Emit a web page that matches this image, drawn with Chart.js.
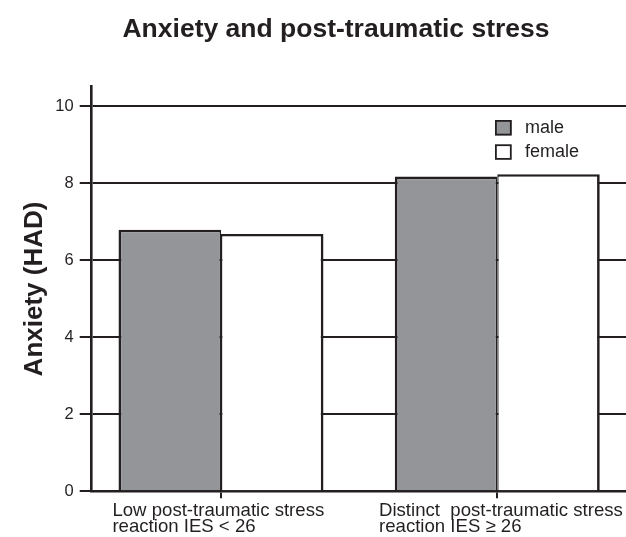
<!DOCTYPE html>
<html>
<head>
<meta charset="utf-8">
<script src="https://cdn.jsdelivr.net/npm/chart.js@4.4.1/dist/chart.umd.min.js"></script>
<style>
html, body { margin: 0; padding: 0; background: #ffffff; }
#wrap { width: 626px; height: 537px; position: relative; }
</style>
</head>
<body>
<div id="wrap"><canvas id="c"></canvas></div>
<script>
// ---- data ----
const categories = [
  ['Low post-traumatic stress', 'reaction IES < 26'],
  ['Distinct  post-traumatic stress', 'reaction IES \u2265 26']
];
const seriesNames = ['male', 'female'];
const maleValues = [6.79, 8.17];
const femaleValues = [6.68, 8.23];
const yTickValues = [0, 2, 4, 6, 8, 10];
const titleText = 'Anxiety and post-traumatic stress';
const yAxisTitle = 'Anxiety (HAD)';

// ---- styles ----
const INK = '#231f20';
const GRAY = '#939598';
const FONT = "'Liberation Sans', Arial, Helvetica, sans-serif";
Chart.defaults.font.family = FONT;
Chart.defaults.color = INK;

const X_MIN = -0.468, X_MAX = 1.466;
// left edge of each (left-aligned) category label block, in x-axis units
const labelBlockStarts = [-0.393, 0.572];

const insideLegend = {
  id: 'insideLegend',
  afterDraw(chart) {
    const ctx = chart.ctx;
    const x = 495, y0 = 120, gap = 24.3, bw = 16.7, bh = 15.5;
    ctx.save();
    chart.data.datasets.forEach((ds, i) => {
      const y = y0 + i * gap;
      ctx.fillStyle = ds.backgroundColor;
      ctx.fillRect(x, y, bw, bh);
      ctx.lineWidth = 1.8;
      ctx.strokeStyle = INK;
      ctx.strokeRect(x + 0.9, y + 0.9, bw - 1.8, bh - 1.8);
      ctx.fillStyle = INK;
      ctx.font = '18px ' + FONT;
      ctx.textAlign = 'left';
      ctx.textBaseline = 'middle';
      ctx.fillText(ds.label, 525, y + bh / 2);
    });
    ctx.restore();
  }
};

new Chart(document.getElementById('c'), {
  type: 'bar',
  data: {
    datasets: [
      {
        label: seriesNames[0],
        data: maleValues.map((v, i) => ({ x: i, y: v })),
        backgroundColor: GRAY,
        borderColor: INK,
        borderWidth: { top: 2.7, left: 2.7, right: 1.4, bottom: 0 },
        borderSkipped: false,
        xAxisID: 'x', yAxisID: 'y',
        categoryPercentage: 0.742,
        barPercentage: 1
      },
      {
        label: seriesNames[1],
        data: femaleValues.map((v, i) => ({ x: i, y: v })),
        backgroundColor: '#ffffff',
        borderColor: INK,
        borderWidth: { top: 2.7, left: 1.4, right: 2.7, bottom: 0 },
        borderSkipped: false,
        xAxisID: 'x', yAxisID: 'y',
        categoryPercentage: 0.742,
        barPercentage: 1
      }
    ]
  },
  options: {
    responsive: true,
    maintainAspectRatio: false,
    animation: false,
    events: [],
    layout: { padding: { left: 46, top: 0, right: 0, bottom: 0 } },
    plugins: {
      legend: { display: false },
      tooltip: { enabled: false },
      title: {
        display: true,
        text: titleText,
        color: INK,
        align: 'center',
        font: { family: FONT, size: 26.5, weight: 'bold', lineHeight: 1.2 },
        padding: { top: 13.7, bottom: 41.2 }
      }
    },
    scales: {
      x: {
        type: 'linear',
        position: 'bottom',
        weight: 0,
        min: X_MIN, max: X_MAX,
        offset: false,
        afterBuildTicks: s => { s.ticks = categories.map((c, i) => ({ value: i })); },
        ticks: { display: false },
        grid: { display: true, drawOnChartArea: false, drawTicks: true, tickLength: 7, lineWidth: 2, color: INK, offset: false },
        border: { display: true, color: INK, width: 2.5 },
        afterFit: s => { s.height = 7; }
      },
      xl: {
        type: 'linear',
        position: 'bottom',
        weight: 1,
        min: X_MIN, max: X_MAX,
        offset: false,
        afterBuildTicks: s => { s.ticks = labelBlockStarts.map(v => ({ value: v })); },
        ticks: {
          display: true,
          autoSkip: false,
          minRotation: 0, maxRotation: 0,
          align: 'start',
          padding: 5,
          color: INK,
          font: { family: FONT, size: 18.6, lineHeight: 0.84 },
          callback: (v, i) => categories[i]
        },
        grid: { display: false, drawTicks: false },
        border: { display: false },
        afterFit: s => { s.height = 38.7; s.paddingLeft = 0; s.paddingRight = 0; }
      },
      y: {
        type: 'linear',
        position: 'left',
        min: 0, max: 10.5,
        afterBuildTicks: s => { s.ticks = yTickValues.map(v => ({ value: v })); },
        ticks: { color: INK, padding: 6, font: { family: FONT, size: 16.5 }, callback: v => String(v) },
        grid: { color: INK, lineWidth: 2, tickLength: 12, drawTicks: true, drawOnChartArea: true },
        border: { display: true, color: INK, width: 2.6 },
        title: {
          display: true,
          text: yAxisTitle,
          color: INK,
          font: { family: FONT, size: 26, weight: 'bold', lineHeight: 1.2 },
          padding: { top: -26.9, bottom: 0 }
        },
        afterFit: s => { s.width = 45.7; }
      }
    }
  },
  plugins: [insideLegend]
});
</script>
</body>
</html>
